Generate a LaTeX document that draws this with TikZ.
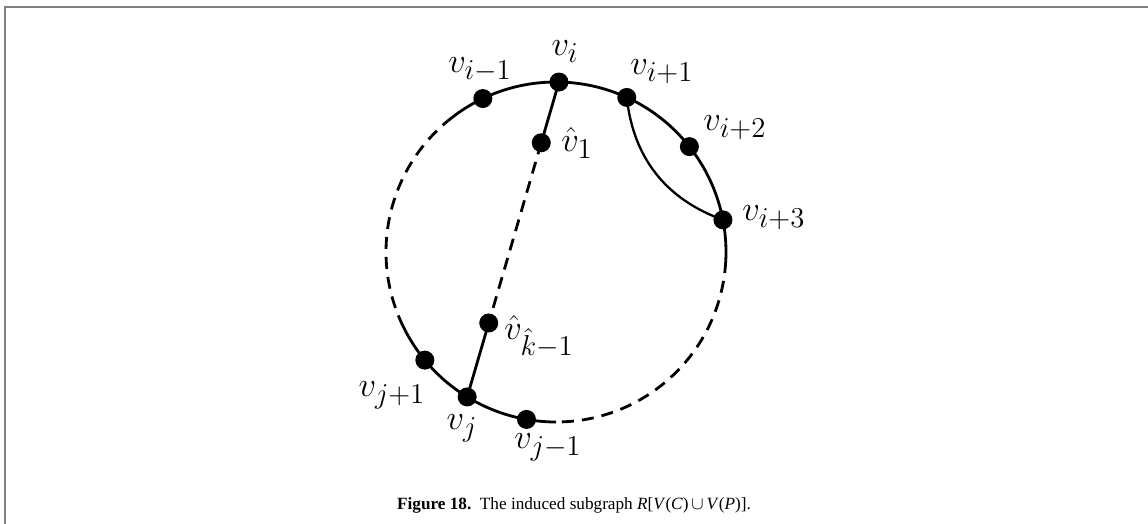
\documentclass[tikz,border=0pt]{standalone}
\usepackage{fontspec}
\setmainfont{Liberation Serif}
\pgfdeclarelayer{bg}
\pgfsetlayers{bg,main}

\begin{document}
\begin{tikzpicture}[x=.5pt,y=.5pt,line width=1.4pt,
  dot/.style={circle,fill,inner sep=0pt,minimum size=9.5pt},
  lbl/.style={font=\fontsize{19}{23}\selectfont},
  dsh/.style={dash pattern=on 6pt off 4pt}]
 \useasboundingbox (0,0) rectangle (1148,524);
 \draw[gray,line width=1pt] (5,0)--(5,516.5)--(1148,516.5);
 \coordinate (c) at (556,272);
 % vertices on C
 \node[dot] (vim) at ([shift={(115.5:170)}]c) {};
 \node[dot] (vi)  at ([shift={(89:170)}]c) {};
 \node[dot] (vip1) at ([shift={(65.4:170)}]c) {};
 \node[dot] (vip2) at ([shift={(38.3:170)}]c) {};
 \node[dot] (vip3) at ([shift={(10.9:170)}]c) {};
 \node[dot] (vjp) at ([shift={(219.5:170)}]c) {};
 \node[dot] (vj)  at ([shift={(238.5:170)}]c) {};
 \node[dot] (vjm) at ([shift={(260:170)}]c) {};
 \coordinate (a1) at ([shift={(129.5:170)}]c);
 \coordinate (a2) at ([shift={(-4.4:170)}]c);
 \coordinate (a3) at ([shift={(270:170)}]c);
 \coordinate (a4) at ([shift={(204.6:170)}]c);
 % vertices on P
 \path (vi)--(vj) node[dot,pos=.171] (vh1) {} node[dot,pos=.784] (vhk) {};
 \begin{pgfonlayer}{bg}
 \begin{scope}[line width=1.4pt]
 \draw (a1) arc[start angle=129.5,end angle=-4.4,radius=170];
 \draw[dsh,dash phase=2pt] (a2) arc[start angle=-4.4,end angle=-90,radius=170];
 \draw (a3) arc[start angle=270,end angle=204.6,radius=170];
 \draw[dsh,dash phase=2pt] (a4) arc[start angle=204.6,end angle=129.5,radius=170];
 \draw (vi.center)--(vh1.center);
 \draw[dsh] (vh1.center)--(vhk.center);
 \draw (vhk.center)--(vj.center);
 \draw[line width=1.15pt] (vip1.center) to[bend right=32] (vip3.center);
 \end{scope}
 \end{pgfonlayer}
 % labels
 \node[lbl] (lvi) at (565,472) {$v_i$};
 \node[lbl] (lvim) at (480,454) {$v_{i-1}$};
 \node[lbl] (lvip1) at (662,452) {$v_{i+1}$};
 \node[lbl] (lvip2) at (735,396) {$v_{i+2}$};
 \node[lbl] (lvip3) at (774,306) {$v_{i+3}$};
 \node[lbl] (lvh1) at (577,381) {$\hat v_1$};
 \node[lbl] (lvhk) at (539,187) {$\hat v_{\hat k-1}$};
 \node[lbl] (lvjp) at (392,129) {$v_{j+1}$};
 \node[lbl] (lvj) at (462,96) {$v_j$};
 \node[lbl] (lvjm) at (548,77) {$v_{j-1}$};
 \node (cap) at (574,19) {\fontsize{8.6}{10}\selectfont\textbf{Figure 18.}\enspace The induced subgraph \textit{R}[\textit{V}(\textit{C})\,$\cup$\,\textit{V}(\textit{P})].};
\end{tikzpicture}
\end{document}
